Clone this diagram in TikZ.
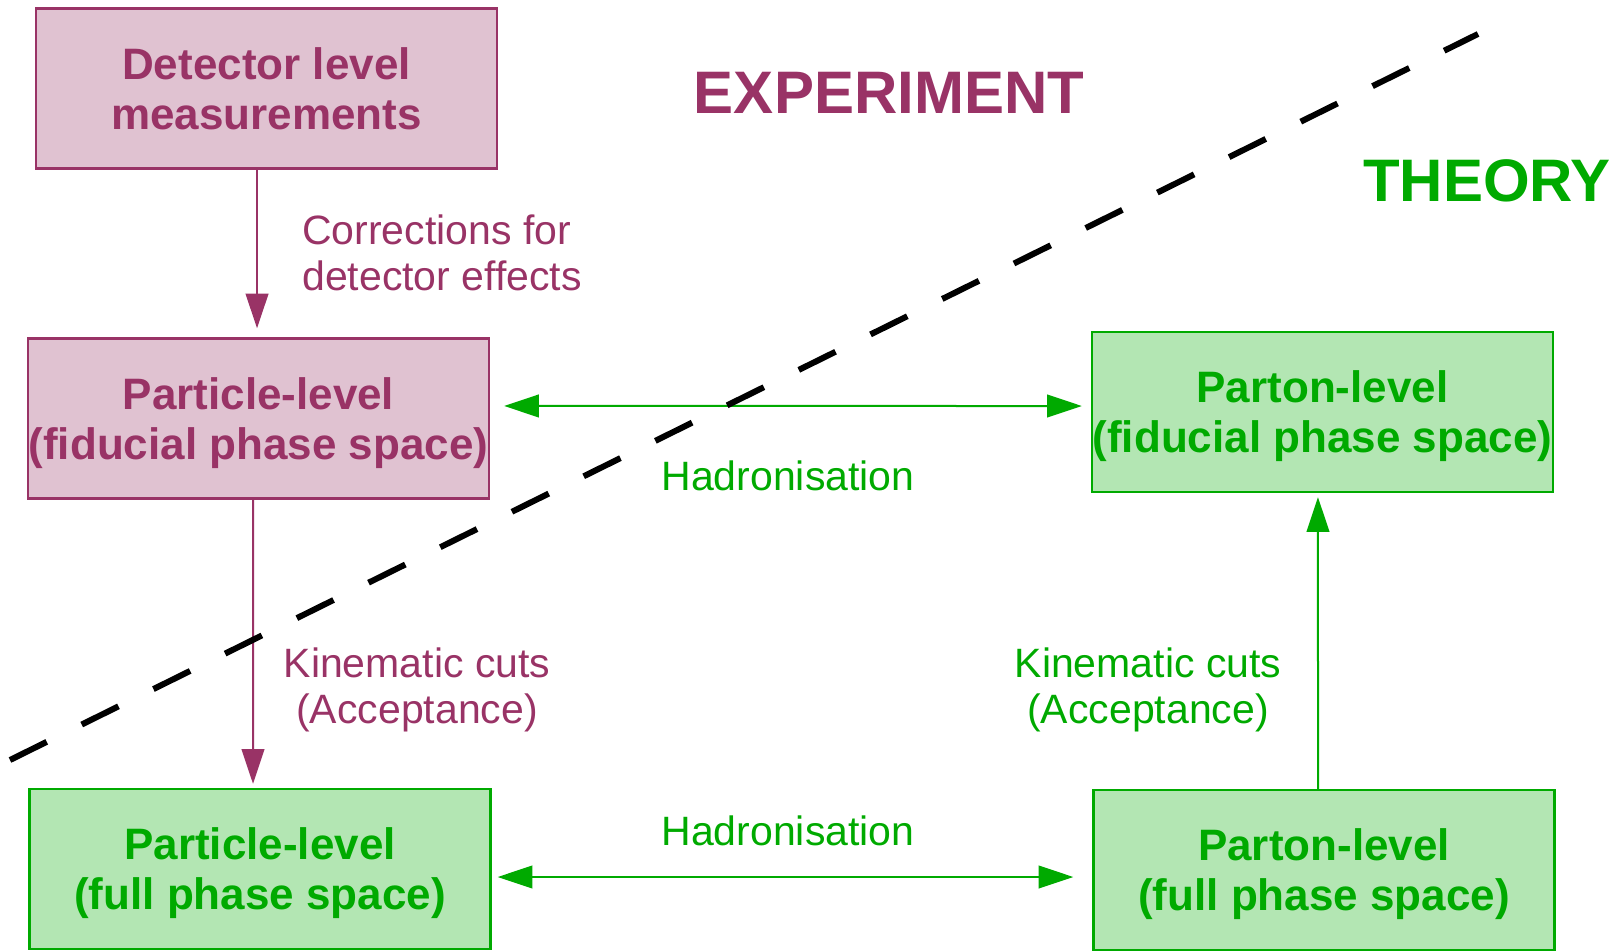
\documentclass[tikz,border=0pt]{standalone}
\usepackage{fontspec}
\setmainfont{Liberation Sans}
\usepackage{tikz}
\usetikzlibrary{positioning,calc,arrows.meta}

\definecolor{expcol}{HTML}{993366}
\definecolor{expfill}{HTML}{E0C2D1}
\definecolor{thcol}{HTML}{00AA00}
\definecolor{thfill}{HTML}{B3E6B3}

\tikzset{
	levelbox/.style = {rectangle, line width=1.8pt, minimum width=345.75pt, minimum height=120pt,
		inner sep=0pt, text depth=0pt, align=center, font=\fontsize{33}{37.5}\selectfont\bfseries},
	expbox/.style = {levelbox, draw=expcol, fill=expfill, text=expcol},
	thbox/.style = {levelbox, draw=thcol, fill=thfill, text=thcol},
	steplabel/.style = {inner sep=0pt, align=center, font=\fontsize{30.75}{35}\selectfont},
	explabel/.style = {steplabel, text=expcol},
	thlabel/.style = {steplabel, text=thcol},
	heading/.style = {inner sep=0pt, font=\fontsize{45}{50}\selectfont\bfseries},
	exparrow/.style = {draw=expcol, line width=1.5pt, -{Triangle[length=26pt, width=17pt]}},
	tharrow/.style = {draw=thcol, line width=1.5pt, -{Triangle[length=26pt, width=17pt]}},
	thboth/.style = {tharrow, {Triangle[length=26pt, width=17pt]}-{Triangle[length=26pt, width=17pt]}},
	cutline/.style = {black, line width=4.5pt, dash pattern=on 30.75pt off 29.25pt}
}

\begin{document}
\begin{tikzpicture}[x=0.75pt, y=-0.75pt]
	\useasboundingbox (0,0) rectangle (1621,950);
	
	% the four levels plus the measurement
	\node [expbox] (det) at (266.5,88.5) {Detector level\\measurements};
	\node [expbox] (pfid) at (258.5,418.5) {Particle-level\\(fiducial phase space)};
	\node [thbox] (tfid) at (1322.5,412) {Parton-level\\(fiducial phase space)};
	\node [thbox] (pfull) at (260,869) {Particle-level\\(full phase space)};
	\node [thbox] (tfull) at (1324,870) {Parton-level\\(full phase space)};
	
	% headings
	\node [heading, text=expcol] (exp) at (889,93) {EXPERIMENT};
	\node [heading, text=thcol] (th) at (1487,181) {THEORY};
	
	% corrections between the levels
	\draw [exparrow, shorten >=6.75pt] ([xshift=-7.1pt]det.south) -- ([xshift=-1.1pt]pfid.north);
	\node [explabel, anchor=west, align=left] (corr) at (302,253) {Corrections for\\detector effects};
	
	\draw [exparrow, shorten >=3pt] ([xshift=-4.1pt]pfid.south) -- ([xshift=-5.25pt]pfull.north);
	\node [explabel] (kinexp) at (417,690) {Kinematic cuts\\(Acceptance)};
	
	\draw [tharrow, shorten >=3pt] ([xshift=-4.5pt]tfull.north) -- ([xshift=-3.4pt]tfid.south);
	\node [thlabel] (kinth) at (1148,690) {Kinematic cuts\\(Acceptance)};
	
	\draw [thboth, shorten <=10.5pt, shorten >=6.75pt] ([yshift=9.4pt]pfid.east) -- ([yshift=4.5pt]tfid.west);
	\node [thlabel] (hadfid) at (788,476) {Hadronisation};
	
	\draw [thboth, shorten <=4.5pt, shorten >=14.25pt] ([yshift=-6pt]pfull.east) -- ([yshift=-5.25pt]tfull.west);
	\node [thlabel] (hadfull) at (788,831) {Hadronisation};
	
	% border between experiment and theory
	\coordinate (cutlo) at (10,760);
	\coordinate (cuthi) at (1478,34);
	\draw [cutline] (cutlo) -- (cuthi);
\end{tikzpicture}
\end{document}
